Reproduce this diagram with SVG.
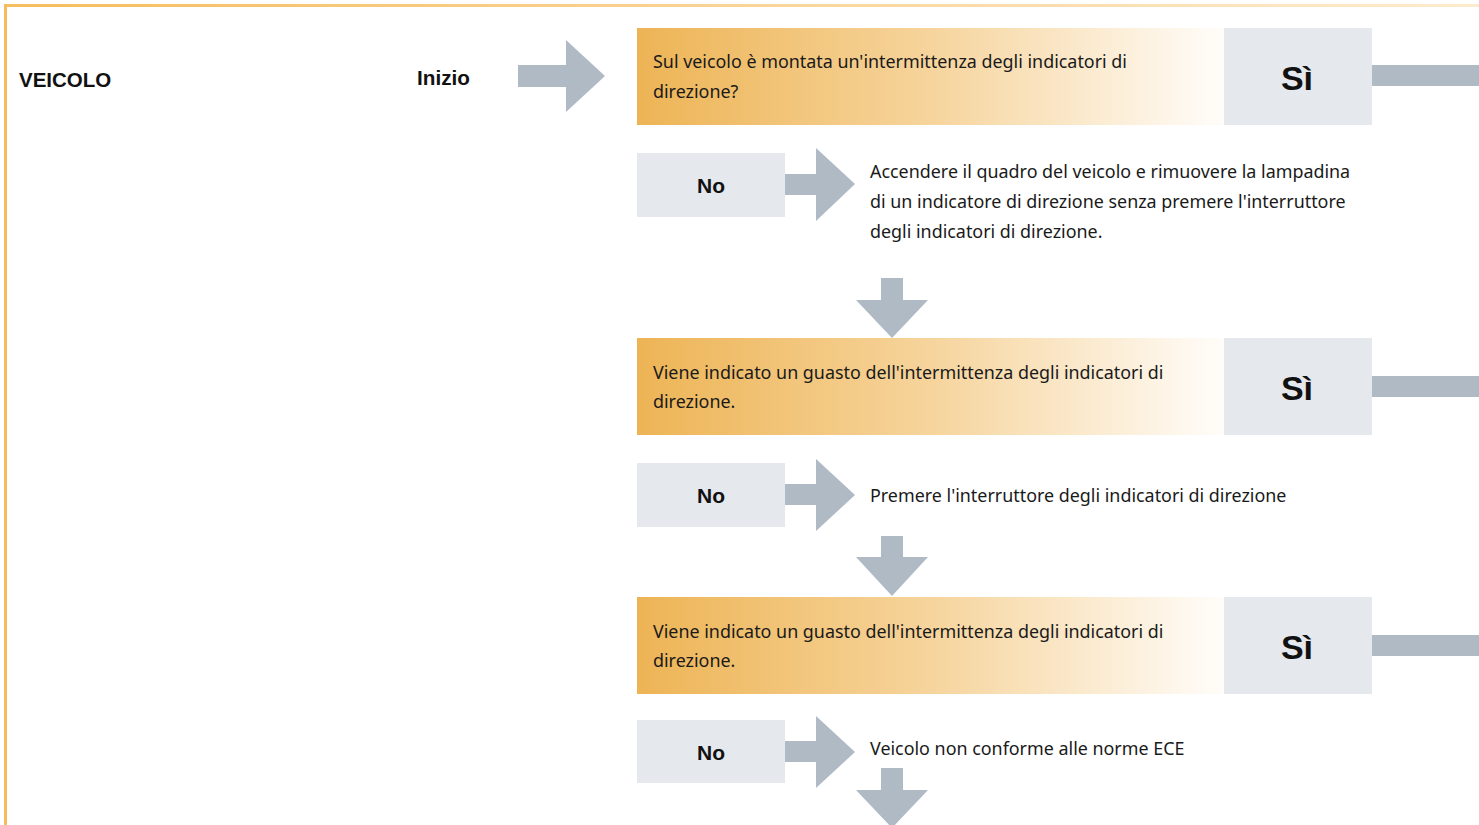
<svg xmlns="http://www.w3.org/2000/svg" width="1479" height="825" viewBox="0 0 1479 825">
<defs>
<linearGradient id="gq" x1="0" y1="0" x2="1" y2="0">
<stop offset="0" stop-color="#edb455"/>
<stop offset="0.5" stop-color="#f6d49c"/>
<stop offset="1" stop-color="#fffdfa"/>
</linearGradient>
<linearGradient id="gb" x1="0" y1="0" x2="1" y2="0">
<stop offset="0" stop-color="#f5bd5e"/>
<stop offset="1" stop-color="#fdebcf"/>
</linearGradient>
<style>
.t{font-family:"Noto Sans","Liberation Sans",Arial,sans-serif;font-size:17.9px;fill:#1a1a1a}
.b{font-family:"Liberation Sans",Arial,sans-serif;font-weight:bold;fill:#111}
.ans{fill:#e5e8ed}
.arr{fill:#b0bac5}
</style>
</defs>
<rect width="1479" height="825" fill="#fff"/>
<rect x="4" y="4" width="1475" height="3" fill="url(#gb)"/>
<rect x="4" y="4" width="3" height="821" fill="#f5bd5e"/>
<text class="b" x="19" y="87" font-size="20.5">VEICOLO</text>
<text class="b" x="417" y="85" font-size="20.7">Inizio</text>
<g id="connectors">
<path class="arr" d="M518 65H566V40L605 76L566 112V87H518Z"/>
<path class="arr" d="M785 174H816V148L855 184L816 221V195H785Z"/>
<path class="arr" d="M785 484H816V459L855 495L816 531V505H785Z"/>
<path class="arr" d="M785 741H816V716L855 752L816 788V762H785Z"/>
<path class="arr" d="M881 278H903V300H928L892 338L856 300H881Z"/>
<path class="arr" d="M881 536H903V557H928L892 596L856 557H881Z"/>
<path class="arr" d="M881 768H903V790H928L892 828L856 790H881Z"/>
<rect class="arr" x="1372" y="65" width="107" height="21"/>
<rect class="arr" x="1372" y="376" width="107" height="21"/>
<rect class="arr" x="1372" y="635" width="107" height="21"/>
</g>
<g id="q1">
<rect x="637" y="28" width="587" height="97" fill="url(#gq)"/>
<text class="t" x="653" y="68">Sul veicolo è montata un'intermittenza degli indicatori di</text>
<text class="t" x="653" y="98">direzione?</text>
</g>
<g id="yes1"><rect class="ans" x="1224" y="28" width="148" height="97"/><text class="b" x="1297" y="90" font-size="34" text-anchor="middle">Sì</text></g>
<g id="no1"><rect class="ans" x="637" y="153" width="148" height="64"/><text class="b" x="711" y="193" font-size="21" text-anchor="middle">No</text></g>
<g id="step1">
<text class="t" x="870" y="178">Accendere il quadro del veicolo e rimuovere la lampadina</text>
<text class="t" x="870" y="208">di un indicatore di direzione senza premere l'interruttore</text>
<text class="t" x="870" y="238">degli indicatori di direzione.</text>
</g>
<g id="q2">
<rect x="637" y="338" width="587" height="97" fill="url(#gq)"/>
<text class="t" x="653" y="379">Viene indicato un guasto dell'intermittenza degli indicatori di</text>
<text class="t" x="653" y="408">direzione.</text>
</g>
<g id="yes2"><rect class="ans" x="1224" y="338" width="148" height="97"/><text class="b" x="1297" y="400" font-size="34" text-anchor="middle">Sì</text></g>
<g id="no2"><rect class="ans" x="637" y="463" width="148" height="64"/><text class="b" x="711" y="503" font-size="21" text-anchor="middle">No</text></g>
<g id="step2"><text class="t" x="870" y="502">Premere l'interruttore degli indicatori di direzione</text></g>
<g id="q3">
<rect x="637" y="597" width="587" height="97" fill="url(#gq)"/>
<text class="t" x="653" y="638">Viene indicato un guasto dell'intermittenza degli indicatori di</text>
<text class="t" x="653" y="667">direzione.</text>
</g>
<g id="yes3"><rect class="ans" x="1224" y="597" width="148" height="97"/><text class="b" x="1297" y="659" font-size="34" text-anchor="middle">Sì</text></g>
<g id="no3"><rect class="ans" x="637" y="720" width="148" height="63"/><text class="b" x="711" y="760" font-size="21" text-anchor="middle">No</text></g>
<g id="step3"><text class="t" x="870" y="755">Veicolo non conforme alle norme ECE</text></g>
</svg>
